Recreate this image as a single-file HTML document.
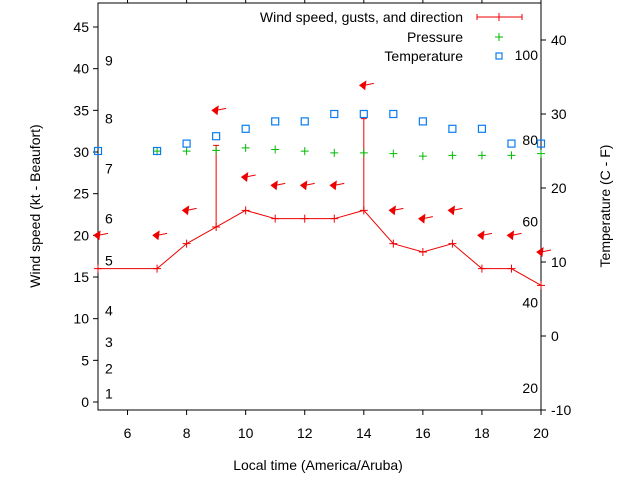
<!DOCTYPE html>
<html><head><meta charset="utf-8"><style>
body{margin:0;background:#fff}
svg{display:block;font-family:"Liberation Sans",sans-serif}
</style></head><body>
<svg id="chart" width="640" height="480" xmlns="http://www.w3.org/2000/svg">
<g id="grid"></g>
<g id="marks"></g>
</svg>
<script>
const hours=[5,7,8,9,10,11,12,13,14,15,16,17,18,19,20];
const windSpeed=[16,16,19,21,23,22,22,22,23,19,18,19,16,16,14];
const gustHours=[9,14];
const gustValues=[30.8,34];
const arrowLevel=[20,20,23,35,27,26,26,26,38,23,22,23,20,20,18];
const pressHours=[7,8,9,10,11,12,13,14,15,16,17,18,19,20];
const pressure=[30.1,30.1,30.2,30.5,30.3,30.1,29.9,29.9,29.8,29.5,29.6,29.6,29.6,29.8];
const temperature=[25,25,26,27,28,29,29,30,30,30,29,28,28,26,26];
const xTicks=[6,8,10,12,14,16,18,20];
const yTicks=[0,5,10,15,20,25,30,35,40,45];
const y2Ticks=[-10,0,10,20,30,40];
const beaufort=[[1,1],[2,4],[3,7.2],[4,11],[5,17],[6,22],[7,28],[8,34],[9,41]];
const fahr=[[20,-7],[40,4.5],[60,15.5],[80,26.5],[100,38]];

const L=98,R=541,T=3,B=410;
const X=v=>L+(v-5)*(R-L)/15;
const Y=v=>402-v*8.333;
const Y2=v=>336-v*7.4;
const NS="http://www.w3.org/2000/svg";
const g=document.getElementById('grid'),m=document.getElementById('marks');
function mk(p,tag,a,txt){const e=document.createElementNS(NS,tag);for(const k in a)e.setAttribute(k,a[k]);if(txt!==undefined)e.textContent=txt;p.appendChild(e);return e;}

let e=mk(g,'rect',{x:L,y:T,width:R-L,height:B-T,fill:'none',stroke:'#000','stroke-width':1});


xTicks.forEach(v=>{
 mk(g,'line',{x1:X(v),x2:X(v),y1:B,y2:B+5,stroke:'#000'});
 mk(g,'line',{x1:X(v),x2:X(v),y1:T,y2:T-5,stroke:'#000'});
 const t=mk(g,'text',{x:X(v),y:438,'text-anchor':'middle','font-size':14},v);
 
 
});
yTicks.forEach(v=>{
 mk(g,'line',{x1:L,x2:L-5,y1:Y(v),y2:Y(v),stroke:'#000'});
 const t=mk(g,'text',{x:L-9,y:Y(v)+5,'text-anchor':'end','font-size':14},v);
 
 
});
y2Ticks.forEach(v=>{
 mk(g,'line',{x1:R,x2:R+5,y1:Y2(v),y2:Y2(v),stroke:'#000'});
 const t=mk(g,'text',{x:R+10,y:Y2(v)+5,'font-size':14},v);
 
 
});
beaufort.forEach(([n,v])=>{
 const t=mk(g,'text',{x:105,y:Y(v)+5,'font-size':14},n);
 
 
});
fahr.forEach(([n,v])=>{
 const t=mk(g,'text',{x:538,y:Y2(v)+5,'font-size':14,'text-anchor':'end'},n);
 
 
});
e=mk(g,'text',{x:318,y:470,'text-anchor':'middle','font-size':14},'Local time (America/Aruba)');

e=mk(g,'text',{x:40,y:206,'text-anchor':'middle','font-size':14,transform:'rotate(-90 40 206)'},'Wind speed (kt - Beaufort)');

e=mk(g,'text',{x:610,y:206,'text-anchor':'middle','font-size':14,transform:'rotate(-90 610 206)'},'Temperature (C - F)');


// wind line
const pts=hours.map((h,i)=>X(h)+','+Y(windSpeed[i])).join(' ');
e=mk(m,'polyline',{points:L+','+Y(windSpeed[0])+' '+pts,fill:'none',stroke:'#e00','stroke-width':1});

hours.forEach((h,i)=>{
 const x=X(h),y=Y(windSpeed[i]);
 e=mk(m,'path',{d:`M${x-4},${y}H${x+4}M${x},${y-4}V${y+4}`,stroke:'#e00'});
 
});
gustHours.forEach((h,j)=>{
 const x=X(h),i=hours.indexOf(h),y0=Y(windSpeed[i]),y1=Y(gustValues[j]);
 e=mk(m,'path',{d:`M${x},${y0}V${y1}M${x-3},${y1}H${x+3}`,stroke:'#e00'});
 
});
hours.forEach((h,i)=>{
 const x=X(h),y=Y(arrowLevel[i]);
 e=mk(m,'path',{d:`M${x-4},${y} L${x+2},${y-4} L${x+1},${y+4} Z M${x},${y} L${x+10},${y-2}`,fill:'#e00',stroke:'#e00','stroke-width':1});
 
});
pressHours.forEach((h,i)=>{
 const x=X(h),y=Y(pressure[i]);
 e=mk(m,'path',{d:`M${x-4},${y}H${x+4}M${x},${y-4}V${y+4}`,stroke:'#0b0'});
 
});
hours.forEach((h,i)=>{
 const x=X(h),y=Y2(temperature[i]);
 e=mk(m,'rect',{x:x-3.5,y:y-3.5,width:7,height:7,fill:'none',stroke:'#0a7cf0','stroke-width':1.2});
 
});
// legend
const lg=mk(m,'g',{});

[['Wind speed, gusts, and direction',22],['Pressure',42],['Temperature',61]].forEach(([t,y])=>{
 const el=mk(lg,'text',{x:463,y:y,'text-anchor':'end','font-size':14},t);
 
});
mk(lg,'path',{d:'M477,17H522M477,14V20M522,14V20M499,13V21',stroke:'#e00'});
mk(lg,'path',{d:'M495,37H503M499,33V41',stroke:'#0b0'});
mk(lg,'rect',{x:496,y:53,width:6,height:6,fill:'none',stroke:'#0a7cf0','stroke-width':1.2});
</script>
</body></html>
